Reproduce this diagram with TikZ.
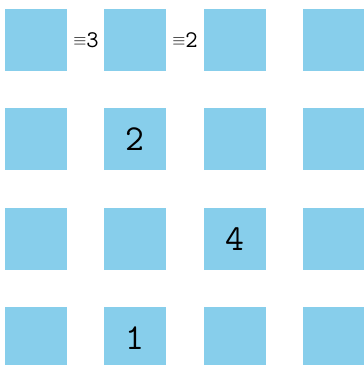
\documentclass[tikz,border=0pt]{standalone}
\usepackage{fontspec}
\usetikzlibrary{positioning}
\definecolor{celeste}{RGB}{135, 206, 235}

\begin{document}
\begin{tikzpicture}[
    casilla/.style={fill=celeste, minimum size=1.55cm, inner sep=0pt},
    numero/.style={font=\ttfamily\fontsize{26}{26}\selectfont, inner sep=0pt},
    marca/.style={font=\ttfamily\fontsize{17}{17}\selectfont, inner sep=0pt}]
    \useasboundingbox (0,0) rectangle (9.1,9.125);

    % Cuadricula de 4x4 casillas
    \foreach \f in {1,...,4}
        \foreach \c in {1,...,4}
            \node[casilla] (c\f\c) at ({0.9+2.483*(\c-1)},{8.125-2.483*(\f-1)}) {};

    % Valores dentro de las casillas
    \node[numero] (n22) at (c22) {2};
    \node[numero] (n33) at (c33) {4};
    \node[numero] (n42) at (c42) {1};

    % Congruencias de la primera fila
    \node[marca] (m1) at (2.15,8.125) {\raisebox{0.15ex}{\fontsize{12}{12}\selectfont$\equiv$}3};
    \node[marca] (m2) at (4.625,8.125) {\raisebox{0.15ex}{\fontsize{12}{12}\selectfont$\equiv$}2};
\end{tikzpicture}
\end{document}
